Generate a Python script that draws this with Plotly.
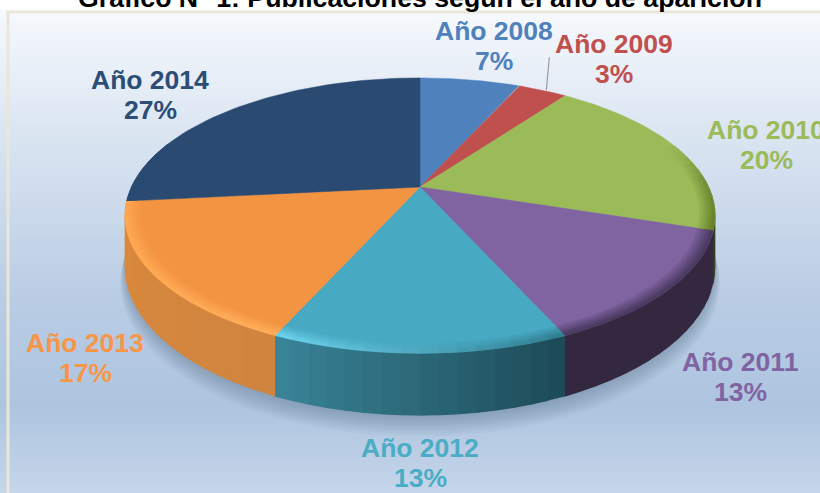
import numpy as np
import plotly.graph_objects as go

# publicaciones por año (los % de las etiquetas salen de aquí)
years = ["Año 2008", "Año 2009", "Año 2010", "Año 2011", "Año 2012", "Año 2013", "Año 2014"]
counts = [2, 1, 6, 4, 4, 5, 8]

colors = ["#4f81bd", "#c0504d", "#9bbb59", "#8064a2", "#48a9c3", "#f39443", "#2a4a72"]
label_colors = ["#4f81bd", "#c0504d", "#9bbb59", "#8064a2", "#4bacc6", "#f79646", "#2c4d75"]
label_pos = [(494, 31), (614, 44), (766, 130), (740, 362), (420, 448), (85, 343), (150, 80)]

# borde biselado y lateral: color al inicio y al final de cada porción
edge_colors = [("#4f81bd", "#4f81bd"), ("#c0504d", "#c0504d"), ("#9bbb59", "#667f28"),
               ("#4a3a60", "#4a3a60"), ("#2f7a8d", "#70d6f0"), ("#ffae5c", "#ffa650"),
               ("#2a4a72", "#2a4a72")]
side_colors = [("#2f4d70", "#2f4d70"), ("#733030", "#733030"), ("#5d7035", "#33401c"),
               ("#33283f", "#33283f"), ("#1d4a56", "#3a8599"), ("#d08540", "#dd8a3c"),
               None]

bg_stops = [(0, "#f6f9fd"), (0.2, "#e0e9f4"), (0.6, "#b9cce4"), (0.82, "#aec4df"), (1, "#c5d6ea")]

# perspectiva del disco
CX, CY = 420, 187
D, A, B, H = 4.82, 1391, 635, 237


def project(theta, r=1.0, drop=0.0):
    x_d, y_d = r * np.sin(theta), r * np.cos(theta)
    depth = D + y_d
    return CX + A * x_d / depth, CY - B * y_d / depth + drop * H / depth


def hex_rgb(h):
    return np.array([int(h[i:i + 2], 16) for i in (1, 3, 5)], dtype=float)


def mix(c1, c2, t):
    c = hex_rgb(c1) * (1 - t) + hex_rgb(c2) * t
    return "#%02x%02x%02x" % tuple(int(v) for v in c)


def poly(fig, xs, ys, color):
    fig.add_trace(go.Scatter(
        x=xs, y=ys, mode="lines", fill="toself", fillcolor=color,
        line=dict(color=color, width=0.5),
        hoverinfo="skip", showlegend=False
    ))


fractions = np.array(counts) / sum(counts)
edges = np.concatenate([[0], np.cumsum(fractions)]) * 2 * np.pi

fig = go.Figure()

# fondo degradado
rows = np.linspace(12, 493, 120)
fig.add_trace(go.Heatmap(
    x=[8, 820], y=rows, z=[[v, v] for v in (rows - 12) / 481],
    colorscale=[[p, c] for p, c in bg_stops], showscale=False,
    zsmooth="best", hoverinfo="skip", zmin=0, zmax=1
))

# sombra bajo la torta
ring = np.linspace(0, 2 * np.pi, 180)
for k in range(8, 0, -1):
    sx, sy = project(ring, 1.0 + k * 0.002, 1.0 + k * 0.035)
    fig.add_trace(go.Scatter(
        x=sx, y=sy, mode="lines", fill="toself", fillcolor="rgba(50,70,105,0.04)",
        line=dict(width=0), hoverinfo="skip", showlegend=False
    ))

# lateral: cada tramo solapa al siguiente para que no se vean costuras
for i in range(len(counts)):
    if side_colors[i] is None:
        continue
    t0, t1 = edges[i], edges[i + 1]
    n = max(int((t1 - t0) / 0.05), 2)
    steps = np.linspace(t0, t1, n + 1)
    for j in range(n):
        a, b = steps[j], steps[min(j + 2, n)]
        if np.cos(a) > 0.15:
            continue
        xa, ya = project(np.array([a, b]))
        xb, yb = project(np.array([b, a]), drop=1.0)
        poly(fig, list(xa) + list(xb), list(ya) + list(yb),
             mix(side_colors[i][0], side_colors[i][1], (j + 0.5) / n))

# cara superior
for i in range(len(counts)):
    t = np.linspace(edges[i], edges[i + 1], 60)
    rx, ry = project(t)
    poly(fig, [CX] + list(rx) + [CX], [CY] + list(ry) + [CY], colors[i])

# bisel del borde
bands = np.linspace(0.95, 1.0, 6)
for i in range(len(counts)):
    t0, t1 = edges[i], edges[i + 1]
    n = max(int((t1 - t0) / 0.05), 2)
    steps = np.linspace(t0, t1, n + 1)
    for j in range(n):
        a, b = steps[j], steps[j + 1]
        strength = np.clip((0.35 - np.cos((a + b) / 2)) / 0.3, 0, 1)
        if strength == 0:
            continue
        edge = mix(edge_colors[i][0], edge_colors[i][1], (j + 0.5) / n)
        for k in range(len(bands) - 1):
            xa, ya = project(np.array([a, b]), bands[k])
            xb, yb = project(np.array([b, a]), bands[k + 1])
            poly(fig, list(xa) + list(xb), list(ya) + list(yb),
                 mix(colors[i], edge, strength * (k + 1) / (len(bands) - 1)))

# línea guía de 2009
mid = (edges[1] + edges[2]) / 2
gx, gy = project(mid)
fig.add_trace(go.Scatter(
    x=[gx + 4, gx + 7], y=[gy, gy - 33], mode="lines",
    line=dict(color="#9a9a9a", width=1.2), hoverinfo="skip", showlegend=False
))

for i, name in enumerate(years):
    lx, ly = label_pos[i]
    fig.add_annotation(x=lx, y=ly, text="<b>%s</b>" % name, showarrow=False, xanchor="center",
                       yanchor="middle", font=dict(size=26.5, color=label_colors[i]))
    fig.add_annotation(x=lx, y=ly + 30, text="<b>%d%%</b>" % round(fractions[i] * 100),
                       showarrow=False, xanchor="center", yanchor="middle",
                       font=dict(size=26.5, color=label_colors[i]))

# el título queda cortado por arriba, como en el original
fig.add_annotation(x=420, xref="x", y=1, yref="paper", yshift=2,
                   text="<b>Gráfico N° 1: Publicaciones según el año de aparición</b>",
                   showarrow=False, xanchor="center", yanchor="middle",
                   font=dict(size=26.7, color="black"))

# marco
fig.add_shape(type="rect", x0=8, y0=12, x1=830, y1=500, line=dict(color="#e9e6da", width=3))

fig.update_layout(
    width=820, height=493, margin=dict(l=0, r=0, t=0, b=0),
    paper_bgcolor="white", plot_bgcolor="white",
    font=dict(family="Liberation Sans, Arial, sans-serif"),
    xaxis=dict(range=[0, 820], visible=False, fixedrange=True),
    yaxis=dict(range=[493, 0], visible=False, fixedrange=True),
)

fig.write_html("out.html", config=dict(displayModeBar=False),
               post_script="document.body.style.margin='0';document.body.style.overflow='hidden';")
